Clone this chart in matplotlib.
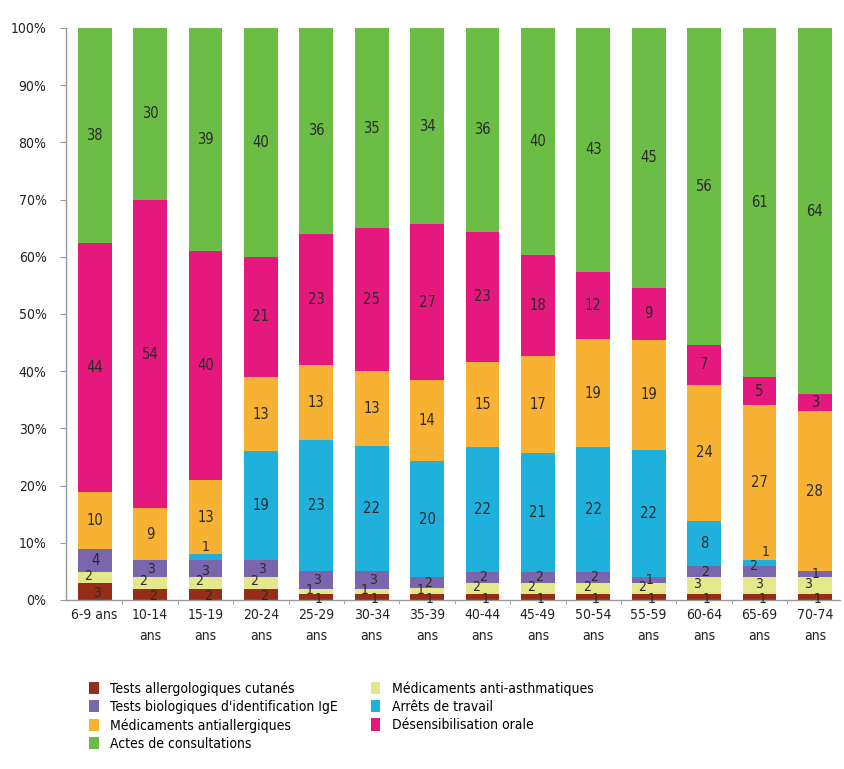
import matplotlib
matplotlib.use("Agg")
import matplotlib.pyplot as plt
import numpy as np
from matplotlib.patches import Patch

plt.rcParams['font.family'] = ['DejaVu Sans']
plt.rcParams['font.stretch'] = 'condensed'

age_groups = ["6-9 ans", "10-14\nans", "15-19\nans", "20-24\nans", "25-29\nans",
              "30-34\nans", "35-39\nans", "40-44\nans", "45-49\nans", "50-54\nans",
              "55-59\nans", "60-64\nans", "65-69\nans", "70-74\nans"]

tests_cutanes      = [3, 2, 2, 2, 1, 1, 1, 1, 1, 1, 1, 1, 1, 1]
med_antiasthma     = [2, 2, 2, 2, 1, 1, 1, 2, 2, 2, 2, 3, 3, 3]
tests_ige          = [4, 3, 3, 3, 3, 3, 2, 2, 2, 2, 1, 2, 2, 1]
arrets_travail     = [0, 0, 1, 19, 23, 22, 20, 22, 21, 22, 22, 8, 1, 0]
med_antiallergique = [10, 9, 13, 13, 13, 13, 14, 15, 17, 19, 19, 24, 27, 28]
desensibilisation  = [44, 54, 40, 21, 23, 25, 27, 23, 18, 12, 9, 7, 5, 3]
consultations      = [38, 30, 39, 40, 36, 35, 34, 36, 40, 43, 45, 56, 61, 64]

series = [
    ("Tests allergologiques cutanés", tests_cutanes, "#962d16"),
    ("Médicaments anti-asthmatiques", med_antiasthma, "#e4e88a"),
    ("Tests biologiques d'identification IgE", tests_ige, "#7a66ad"),
    ("Arrêts de travail", arrets_travail, "#1fb0dc"),
    ("Médicaments antiallergiques", med_antiallergique, "#f8b233"),
    ("Désensibilisation orale", desensibilisation, "#e5197d"),
    ("Actes de consultations", consultations, "#6cbd46"),
]

data = np.array([s[1] for s in series], dtype=float)
totals = data.sum(axis=0)
shares = data / totals * 100

fig = plt.figure(figsize=(8.44, 7.69), dpi=100)
ax = fig.add_axes([0.078, 0.2198, 0.917, 0.7438])

x = np.arange(len(age_groups))
width = 0.61
bottom = np.zeros(len(age_groups))
text_col = "#2a2a2a"
for idx, (name, vals, col) in enumerate(series):
    h = shares[idx]
    ax.bar(x, h, width, bottom=bottom, color=col, edgecolor='none', zorder=2)
    for i, v in enumerate(vals):
        if v <= 0:
            continue
        cy = bottom[i] + h[i] / 2
        dx = 0
        fs = 10.5
        if idx == 0:
            dx = 0.05
            cy = bottom[i] + h[i] / 2 - (0.4 if v == 1 else 0.3)
        elif idx == 1:
            dx = 0.0 if i == 12 else -0.12
            cy = bottom[i] + h[i] / 2 + 0.3
        elif idx == 2:
            if arrets_travail[i] == 1:
                dx = -0.12 if i == 12 else 0.0
                cy = bottom[i] + h[i] / 2 + (0.9 if i == 12 else -0.4)
            else:
                dx = 0.02
        elif idx == 3 and v == 1:
            dx = 0.12 if i == 12 else 0.0
            cy = bottom[i] + h[i] / 2 + 1.8
        if idx <= 3 and v <= 3:
            fs = 10
        ax.text(x[i] + dx, cy, str(v), ha='center', va='center',
                fontsize=fs, color=text_col, zorder=3)
    bottom += h

ax.set_xlim(-0.52, 13.45)
ax.set_ylim(0, 100)
ax.set_yticks(np.arange(0, 101, 10))
ax.set_yticklabels([f"{t}%" for t in range(0, 101, 10)], fontsize=10, color="#222222")
ax.set_xticks(x)
ax.set_xticklabels(age_groups, fontsize=10, color="#222222", linespacing=1.6)
ax.tick_params(axis='x', length=0, pad=6)
ax.set_xticks(np.arange(0.5, 13.5, 1), minor=True)
ax.tick_params(axis='x', which='minor', length=3, color="#999999")
ax.tick_params(axis='y', length=4, color="#999999", pad=10)

for s in ['top', 'right']:
    ax.spines[s].set_visible(False)
for s in ['left', 'bottom']:
    ax.spines[s].set_color("#999999")
    ax.spines[s].set_linewidth(1.0)

legend_order = [0, 2, 4, 6, 1, 3, 5]
handles = [Patch(facecolor=series[k][2], edgecolor='none') for k in legend_order]
labels = [series[k][0] for k in legend_order]
fig.legend(handles, labels, loc='upper left', bbox_to_anchor=(0.097, 0.123),
           ncol=2, frameon=False, fontsize=10, handlelength=0.7, handleheight=1.0,
           handletextpad=0.8, columnspacing=2.4, labelspacing=0.3, borderpad=0)

fig.savefig("out.png", dpi=100)
